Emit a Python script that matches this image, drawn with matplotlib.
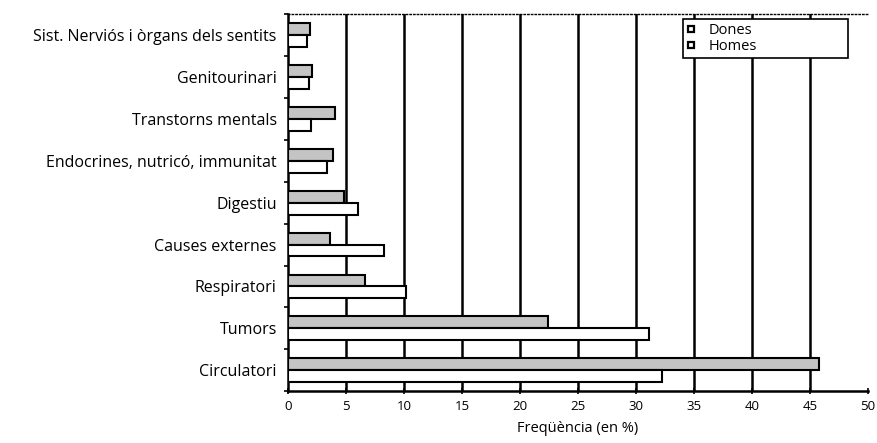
import matplotlib
matplotlib.use("Agg")
import matplotlib.pyplot as plt
from matplotlib.lines import Line2D
import numpy as np

categories = ["Circulatori", "Tumors", "Respiratori", "Causes externes", "Digestiu",
              "Endocrines, nutricó, immunitat", "Transtorns mentals", "Genitourinari",
              "Sist. Nerviós i òrgans dels sentits"]
dones = [45.8, 22.4, 6.6, 3.6, 4.8, 3.85, 4.05, 2.1, 1.9]
homes = [32.2, 31.1, 10.2, 8.3, 6.0, 3.35, 2.0, 1.8, 1.6]
xticks = [0, 5, 10, 15, 20, 25, 30, 35, 40, 45, 50]

plt.rcParams['font.family'] = ['Open Sans', 'DejaVu Sans']

fig = plt.figure(figsize=(8.78, 4.43), dpi=100)
ax = fig.add_axes([0.328, 0.117, 0.6606, 0.851])

y = np.arange(len(categories))
h = 0.285
ax.barh(y + h / 2, dones, height=h, color='#c4c4c4', edgecolor='black', linewidth=1.5, zorder=3)
ax.barh(y - h / 2, homes, height=h, color='white', edgecolor='black', linewidth=1.5, zorder=3)

ax.set_xlim(0, 50)
ax.set_ylim(-0.5, len(categories) - 0.5)
ax.set_xticks(xticks)
ax.set_xticklabels([str(t) for t in xticks], fontsize=9.5)
ax.set_yticks(y)
ax.set_yticklabels(categories, fontsize=11.5)
ax.set_yticks(np.arange(len(categories) + 1) - 0.5, minor=True)
ax.tick_params(axis='y', which='major', length=0, pad=8)
ax.tick_params(axis='y', which='minor', length=3, direction='out', width=1.2)
ax.tick_params(axis='x', length=4, direction='inout', width=1.2, pad=4)

for t in xticks[1:-1]:
    ax.axvline(t, color='black', linewidth=1.8, zorder=1)

ax.spines['right'].set_visible(False)
ax.spines['top'].set_linestyle(':')
ax.spines['top'].set_linewidth(1.0)
ax.spines['left'].set_linewidth(1.8)
ax.spines['bottom'].set_linewidth(1.8)

ax.set_xlabel("Freqüència (en %)", fontsize=10.5, labelpad=6)

handles = [Line2D([], [], marker='s', linestyle='none', markersize=5,
                  markerfacecolor='white', markeredgecolor='black', markeredgewidth=1.6),
           Line2D([], [], marker='s', linestyle='none', markersize=5,
                  markerfacecolor='white', markeredgecolor='black', markeredgewidth=1.6)]
leg = ax.legend(handles, ["Dones", "Homes"], loc='upper left',
                bbox_to_anchor=(0.681, 0.987, 0.285, 0.0), mode='expand',
                borderaxespad=0, fontsize=10.5, fancybox=False, framealpha=1,
                handlelength=0.6, handletextpad=0.9, borderpad=0.25, labelspacing=0.1)
leg.get_frame().set_edgecolor('black')
leg.get_frame().set_linewidth(1.2)
leg.set_zorder(5)

fig.savefig("out.png", dpi=100)
